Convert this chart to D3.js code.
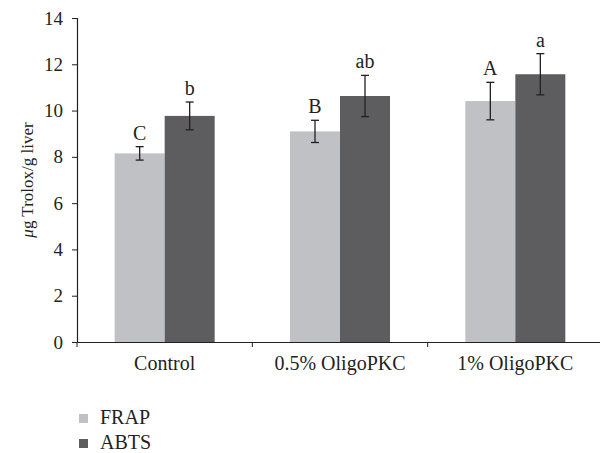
<!DOCTYPE html>
<html>
<head>
<meta charset="utf-8">
<script src="https://cdn.jsdelivr.net/npm/d3@7"></script>
<style>
  body { margin: 0; background: #fff; }
  text { font-family: "Liberation Serif", "DejaVu Serif", serif; fill: #231f20; }
</style>
</head>
<body>
<svg id="chart" width="600" height="453"></svg>
<script>
// Chart data
const categories = ["Control", "0.5% OligoPKC", "1% OligoPKC"]
const seriesNames = ["FRAP", "ABTS"]
const frapValues = [8.15, 9.1, 10.41]
const frapErrors = [0.29, 0.48, 0.81]
const frapLetters = ["C", "B", "A"]
const abtsValues = [9.77, 10.63, 11.57]
const abtsErrors = [0.6, 0.89, 0.89]
const abtsLetters = ["b", "ab", "a"]
const yTicks = [0, 2, 4, 6, 8, 10, 12, 14]

const colors = { FRAP: "#c0c1c4", ABTS: "#5d5d5f" }

const svg = d3.select("#chart")
const margin = { left: 77, right: 0, top: 18, bottom: 111 }
const width = 603 - margin.left
const height = 453 - margin.top - margin.bottom

const g = svg.append("g").attr("transform", `translate(${margin.left},${margin.top})`)

// Scales
const x = d3.scaleBand().domain(categories).range([0, width])
const xInner = d3.scaleBand().domain(seriesNames).range([0, 100])
const y = d3.scaleLinear().domain([0, 14]).range([height, 0])

// Building rows for bars
const rows = []
categories.forEach((c, i) => {
    rows.push({ cat: c, s: "FRAP", v: frapValues[i], e: frapErrors[i], l: frapLetters[i] })
    rows.push({ cat: c, s: "ABTS", v: abtsValues[i], e: abtsErrors[i], l: abtsLetters[i] })
})
const barX = d => x(d.cat) + (x.bandwidth() - 100) / 2 + xInner(d.s)
const barMid = d => barX(d) + xInner.bandwidth() / 2

// Bars
g.selectAll("rect.bar")
    .data(rows)
    .enter()
    .append("rect")
    .attr("class", "bar")
    .attr("x", barX)
    .attr("width", xInner.bandwidth())
    .attr("y", d => y(d.v))
    .attr("height", d => y(0) - y(d.v))
    .attr("fill", d => colors[d.s])

// Error bars
const err = g.selectAll("g.err").data(rows).enter().append("g")
    .attr("stroke", "#231f20").attr("stroke-width", 1.3)
err.append("line")
    .attr("x1", barMid).attr("x2", barMid)
    .attr("y1", d => y(d.v + d.e)).attr("y2", d => y(d.v - d.e))
err.append("line")
    .attr("x1", d => barMid(d) - 4).attr("x2", d => barMid(d) + 4)
    .attr("y1", d => y(d.v + d.e)).attr("y2", d => y(d.v + d.e))
err.append("line")
    .attr("x1", d => barMid(d) - 4).attr("x2", d => barMid(d) + 4)
    .attr("y1", d => y(d.v - d.e)).attr("y2", d => y(d.v - d.e))

// Significance letters
g.selectAll("text.letter")
    .data(rows)
    .enter()
    .append("text")
    .attr("x", barMid)
    .attr("y", d => y(d.v + d.e) - 7)
    .attr("text-anchor", "middle")
    .style("font-size", "20px")
    .text(d => d.l)

// Y axis
const yAxis = g.append("g")
    .call(d3.axisLeft(y).tickValues(yTicks).tickSize(5).tickPadding(9))
yAxis.select(".domain").attr("stroke", "#231f20").attr("stroke-width", 1.2)
yAxis.selectAll(".tick line").attr("stroke", "#231f20")
yAxis.selectAll("text").style("font-size", "19px").attr("fill", "#231f20")

// X axis
const xAxis = g.append("g")
    .attr("transform", `translate(0,${height})`)
    .call(d3.axisBottom(x).tickSize(0).tickPadding(14))
xAxis.select(".domain").attr("stroke", "#231f20").attr("stroke-width", 1.2)
xAxis.selectAll("text").style("font-size", "20px").attr("fill", "#231f20")

// Tick marks on category boundaries
g.append("g").selectAll("line")
    .data(categories)
    .enter()
    .append("line")
    .attr("x1", d => x(d)).attr("x2", d => x(d))
    .attr("y1", height).attr("y2", height + 5)
    .attr("stroke", "#231f20")

// Y axis title
const yTitle = svg.append("text")
    .attr("transform", `translate(33,${margin.top + height / 2}) rotate(-90)`)
    .attr("text-anchor", "middle")
    .style("font-size", "17px")
yTitle.append("tspan").style("font-style", "italic").text("μ")
yTitle.append("tspan").text("g Trolox/g liver")

// Legend
const legend = svg.append("g").attr("transform", "translate(79,414)")
const items = legend.selectAll("g").data(seriesNames).enter().append("g")
    .attr("transform", (d, i) => `translate(0,${i * 25})`)
items.append("rect").attr("width", 9).attr("height", 9).attr("fill", d => colors[d])
items.append("text").attr("x", 21).attr("y", 10).style("font-size", "20px").text(d => d)
</script>
</body>
</html>
